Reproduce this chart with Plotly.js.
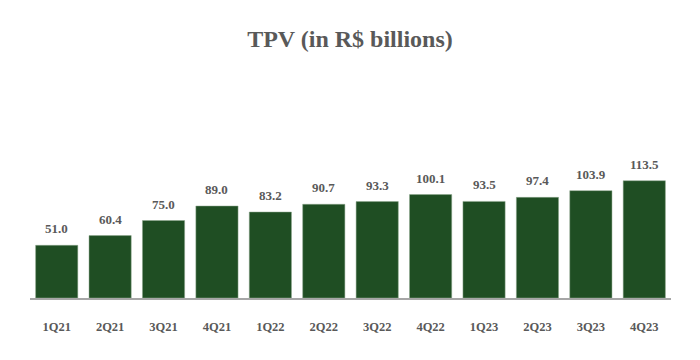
<!DOCTYPE html>
<html>
<head>
<meta charset="utf-8">
<script src="https://cdn.plot.ly/plotly-3.0.1.min.js"></script>
<style>html,body{margin:0;padding:0;background:#fff}#chart{width:700px;height:360px}</style>
</head>
<body>
<div id="chart"></div>
<script>
const quarters = ["1Q21","2Q21","3Q21","4Q21","1Q22","2Q22","3Q22","4Q22","1Q23","2Q23","3Q23","4Q23"];
const tpv = [51.0,60.4,75.0,89.0,83.2,90.7,93.3,100.1,93.5,97.4,103.9,113.5];

const font = "Liberation Serif, Times New Roman, serif";
const grey = "#595959";

const annotations = quarters.map((q, i) => ({
  x: q, y: tpv[i], xref: "x", yref: "y",
  text: "<b>" + tpv[i].toFixed(1) + "</b>",
  showarrow: false, yanchor: "bottom", yshift: 7,
  font: {family: font, size: 13, color: grey}
}));

const data = [{
  type: "bar",
  x: quarters,
  y: tpv,
  marker: {color: "#1F4E23", line: {color: "#8FA98F", width: 0.5}},
  hoverinfo: "none"
}];

const layout = {
  width: 700, height: 360,
  margin: {l: 30, r: 29, t: 143, b: 62},
  paper_bgcolor: "#fff", plot_bgcolor: "#fff",
  bargap: 0.21,
  showlegend: false,
  title: {
    text: "<b>TPV (in R$ billions)</b>",
    font: {family: font, size: 24, color: grey},
    x: 0.5, xanchor: "center", y: 1 - 39/360, yref: "container", yanchor: "middle"
  },
  xaxis: {
    type: "category",
    showline: true, linecolor: "#A6A6A6", linewidth: 2,
    ticks: "", ticklabelstandoff: 16,
    tickfont: {family: font, size: 12.5, color: grey},
    tickprefix: "<b>", ticksuffix: "</b>",
    showgrid: false, zeroline: false, fixedrange: true
  },
  yaxis: {
    range: [0, 150], visible: false, showgrid: false, zeroline: false, fixedrange: true
  },
  annotations: annotations
};

Plotly.newPlot("chart", data, layout, {displayModeBar: false, staticPlot: true});
</script>
</body>
</html>
